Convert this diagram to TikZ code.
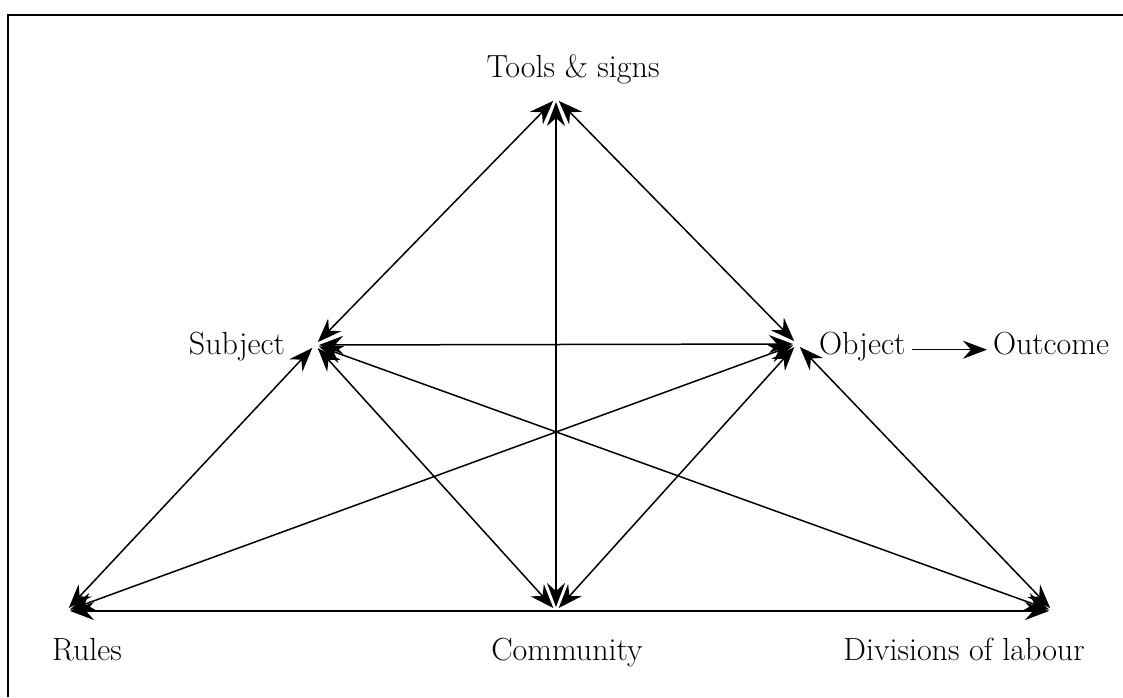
\documentclass[tikz,border=0pt]{standalone}
\usepackage{tikz}
\usetikzlibrary{arrows.meta}

\begin{document}
\begin{tikzpicture}[x=0.5pt,y=-0.5pt,
  >={Stealth[length=12pt,width=9pt,inset=4pt]},
  every node/.style={font=\fontsize{16}{19}\selectfont, inner sep=0pt, outer sep=0pt},
  link/.style={line width=0.75pt, <->, shorten <=2pt, shorten >=2pt},
  flow/.style={line width=0.75pt, ->, shorten <=3.5pt, shorten >=3pt}]
\useasboundingbox (0,0) rectangle (1123,697);
\draw[line width=1pt] (8,697) -- (8,15) -- (1123,15);

% corner points of the triangle
\coordinate (tools) at (556,98);
\coordinate (subj) at (315,345);
\coordinate (obj) at (797,344);
\coordinate (rules) at (66,611);
\coordinate (comm) at (556,611);
\coordinate (div) at (1053,611);

% labels
\node[anchor=base] (toolslbl) at (573,77) {Tools \& signs};
\node[anchor=base east] (subjlbl) at (285,354) {Subject};
\node[anchor=base west] (objlbl) at (819,354) {Object};
\node[anchor=base west] (outlbl) at (993,354) {Outcome};
\node[anchor=base] (ruleslbl) at (87,660) {Rules};
\node[anchor=base] (commlbl) at (567,660) {Community};
\node[anchor=base] (divlbl) at (964,660) {Divisions of labour};

% connectors
\draw[link] (tools) -- (subj);
\draw[link] (tools) -- (obj);
\draw[link] (tools) -- (comm);
\draw[link] (subj) -- (obj);
\draw[link] (subj) -- (rules);
\draw[link] (subj) -- (comm);
\draw[link] (subj) -- (div);
\draw[link] (obj) -- (rules);
\draw[link] (obj) -- (comm);
\draw[link] (obj) -- (div);
\draw[link] (rules) -- (div);
\draw[flow] (objlbl.mid east) -- (outlbl.mid west);
\end{tikzpicture}
\end{document}
